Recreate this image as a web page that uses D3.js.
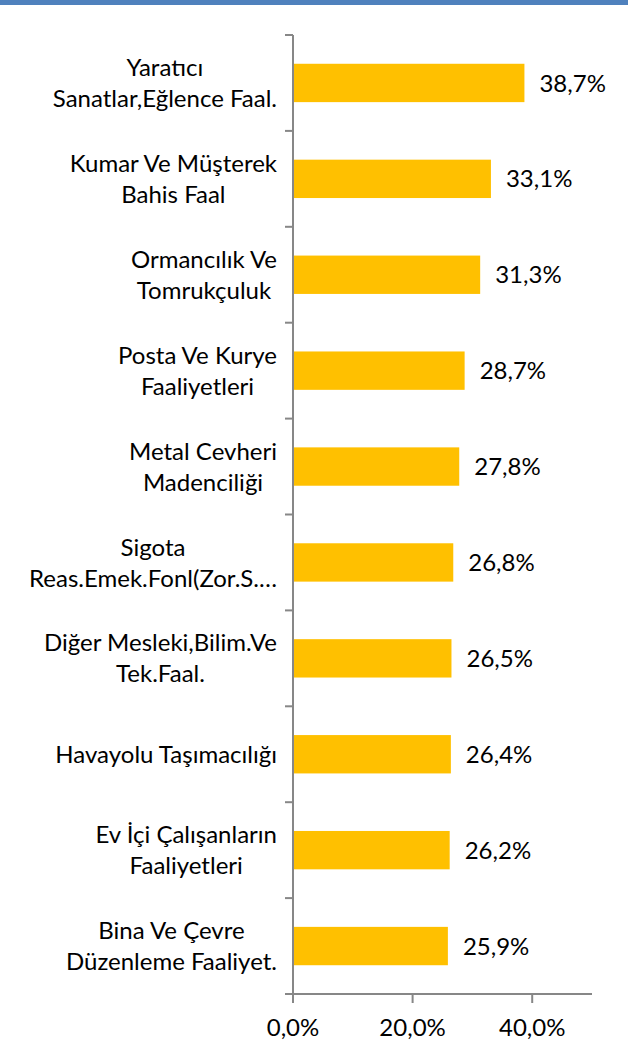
<!DOCTYPE html>
<html>
<head>
  <meta charset="utf-8">
  <script src="https://cdn.jsdelivr.net/npm/d3@7"></script>
  <style>
    body { margin: 0; background: #fff; }
    text { font-family: Lato, "Open Sans", sans-serif; fill: #000; }
  </style>
</head>
<body>
  <div id="chart"></div>

  <script>
    const categories = [
      ['Yaratıcı', 'Sanatlar,Eğlence Faal.'],
      ['Kumar Ve Müşterek', 'Bahis Faal'],
      ['Ormancılık Ve', 'Tomrukçuluk'],
      ['Posta Ve Kurye', 'Faaliyetleri'],
      ['Metal Cevheri', 'Madenciliği'],
      ['Sigota', 'Reas.Emek.Fonl(Zor.S.…'],
      ['Diğer Mesleki,Bilim.Ve', 'Tek.Faal.'],
      ['Havayolu Taşımacılığı'],
      ['Ev İçi Çalışanların', 'Faaliyetleri'],
      ['Bina Ve Çevre', 'Düzenleme Faaliyet.']
    ];
    const values = [38.7, 33.1, 31.3, 28.7, 27.8, 26.8, 26.5, 26.4, 26.2, 25.9];
    const xTicks = [0, 20, 40];

    const width = 628, height = 1042;
    const FONT = 24;

    const svg = d3.select('#chart').append('svg')
      .attr('width', width)
      .attr('height', height);

    // blue rule at the top of the page
    svg.append('rect')
      .attr('x', 0).attr('y', 0)
      .attr('width', width).attr('height', 5)
      .attr('fill', '#4F81BD');

    const x = d3.scaleLinear().domain([0, 50]).range([293, 592]);
    const y = d3.scaleBand()
      .domain(d3.range(categories.length))
      .range([35, 994])
      .paddingInner(0.6)
      .paddingOuter(0.3);

    const fmt = v => d3.format('.1f')(v).replace('.', ',') + '%';

    // bars
    svg.selectAll('rect.bar')
      .data(values)
      .enter().append('rect')
      .attr('class', 'bar')
      .attr('x', x(0))
      .attr('y', (d, i) => y(i))
      .attr('width', d => x(d) - x(0))
      .attr('height', y.bandwidth())
      .attr('fill', '#FFC000');

    // value labels
    svg.selectAll('text.val')
      .data(values)
      .enter().append('text')
      .attr('class', 'val')
      .attr('x', d => x(d) + 15)
      .attr('y', (d, i) => y(i) + y.bandwidth() / 2)
      .attr('dy', '0.36em')
      .style('font-size', FONT + 'px')
      .text(fmt);

    // axes
    const axisColor = '#878787';
    const step = y.step();
    const yTop = 35, yBot = 994;

    svg.append('line')
      .attr('x1', x(0)).attr('x2', x(0))
      .attr('y1', yTop).attr('y2', yBot)
      .attr('stroke', axisColor).attr('stroke-width', 2);

    svg.selectAll('line.ytick')
      .data(d3.range(categories.length + 1))
      .enter().append('line')
      .attr('class', 'ytick')
      .attr('x1', x(0) - 8).attr('x2', x(0))
      .attr('y1', i => yTop + i * step).attr('y2', i => yTop + i * step)
      .attr('stroke', axisColor).attr('stroke-width', 2);

    svg.append('line')
      .attr('x1', x(0) - 8).attr('x2', x(50))
      .attr('y1', yBot).attr('y2', yBot)
      .attr('stroke', axisColor).attr('stroke-width', 2);

    svg.selectAll('line.xtick')
      .data(xTicks)
      .enter().append('line')
      .attr('class', 'xtick')
      .attr('x1', d => x(d)).attr('x2', d => x(d))
      .attr('y1', yBot).attr('y2', yBot + 9)
      .attr('stroke', axisColor).attr('stroke-width', 2);

    svg.selectAll('text.xlab')
      .data(xTicks)
      .enter().append('text')
      .attr('class', 'xlab')
      .attr('x', d => x(d))
      .attr('y', 1036)
      .attr('text-anchor', 'middle')
      .style('font-size', FONT + 'px')
      .text(fmt);

    // category labels, wrapped and centred, block right-aligned to the axis
    const lineH = 31;
    const labelRight = 277;
    categories.forEach((lines, i) => {
      const g = svg.append('g');
      const texts = lines.map((t, k) => g.append('text')
        .attr('y', y(i) + y.bandwidth() / 2 + (k - (lines.length - 1) / 2) * lineH)
        .attr('dy', '0.36em')
        .attr('text-anchor', 'middle')
        .style('font-size', FONT + 'px')
        .text(t));
      const w = d3.max(texts, t => t.node().getComputedTextLength());
      texts.forEach(t => t.attr('x', labelRight - w / 2));
    });
  </script>
</body>
</html>
